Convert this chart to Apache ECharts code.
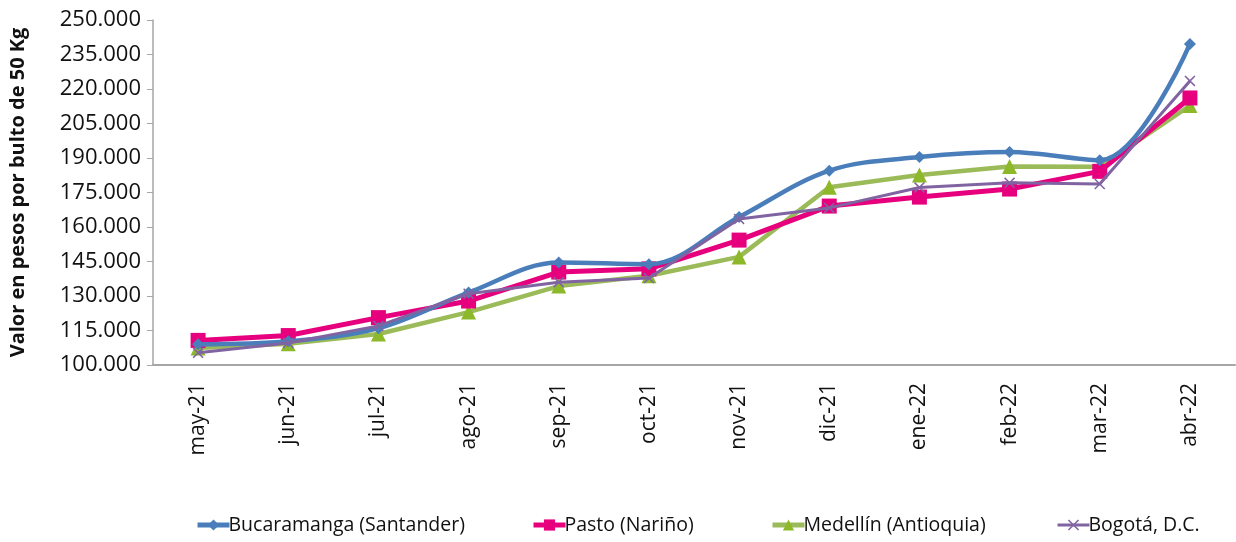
<!DOCTYPE html>
<html>
<head>
<meta charset="utf-8">
<script src="https://cdn.jsdelivr.net/npm/echarts@6/dist/echarts.min.js"></script>
<style>
html,body{margin:0;padding:0;background:#fff;}
#chart{width:1236px;height:542px;}
</style>
</head>
<body>
<div id="chart"></div>
<script>
var categories = ['may-21','jun-21','jul-21','ago-21','sep-21','oct-21','nov-21','dic-21','ene-22','feb-22','mar-22','abr-22'];
var bucaramanga = [109000, 110300, 116000, 131500, 144600, 143800, 164300, 184500, 190400, 192600, 189000, 239600];
var pasto = [110700, 112800, 120600, 127800, 140400, 141800, 154300, 169100, 173000, 176500, 184200, 216100];
var medellin = [107400, 109200, 113500, 123000, 134300, 138800, 147000, 177300, 182600, 186300, 186200, 212800];
var bogota = [105300, 109600, 117000, 131000, 136000, 137800, 163500, 168300, 177200, 179200, 178700, 223500];
var seriesNames = ['Bucaramanga (Santander)', 'Pasto (Nariño)', 'Medellín (Antioquia)', 'Bogotá, D.C.'];

var FONT = '"Open Sans", "Noto Sans", sans-serif';
var xSymbol = 'path://M0,1 L1,0 L5,4 L9,0 L10,1 L6,5 L10,9 L9,10 L5,6 L1,10 L0,9 L4,5Z';

function fmt(v){
  return String(v).replace(/\B(?=(\d{3})+(?!\d))/g, '.');
}

var chart = echarts.init(document.getElementById('chart'), null, {renderer:'canvas'});
var legendBase = {
  bottom: 2,
  itemWidth: 32,
  itemHeight: 14,
  textStyle: {fontFamily: FONT, fontSize: 19.5, color: '#111', padding: [0,0,0,-6]}
};
chart.setOption({
  animation: false,
  backgroundColor: '#fff',
  grid: {left: 152, right: 1, top: 20, bottom: 177, containLabel: false},
  legend: [
    Object.assign({}, legendBase, {left: 190, data: [seriesNames[0]], lineStyle: {width: 5}}),
    Object.assign({}, legendBase, {left: 526, data: [seriesNames[1]], lineStyle: {width: 5}}),
    Object.assign({}, legendBase, {left: 765, data: [seriesNames[2]], lineStyle: {width: 5}}),
    Object.assign({}, legendBase, {left: 1051, data: [seriesNames[3]], lineStyle: {width: 3}})
  ],
  xAxis: {
    type: 'category',
    data: categories,
    boundaryGap: true,
    axisLine: {lineStyle: {color: '#a6a6a6', width: 2}},
    axisTick: {show: false},
    axisLabel: {rotate: 90, margin: 18, fontFamily: FONT, fontSize: 21, color: '#111'},
    splitLine: {show: false}
  },
  yAxis: {
    type: 'value',
    min: 100000,
    max: 250000,
    interval: 15000,
    name: 'Valor en pesos por bulto de 50 Kg',
    nameLocation: 'middle',
    nameGap: 125,
    nameTextStyle: {fontFamily: FONT, fontSize: 20, fontWeight: 'bold', color: '#111'},
    axisLine: {show: true, lineStyle: {color: '#a6a6a6', width: 1.5}},
    axisTick: {show: true, length: 6, lineStyle: {color: '#a6a6a6'}},
    axisLabel: {margin: 12, fontFamily: FONT, fontSize: 22, color: '#111', formatter: fmt},
    splitLine: {show: false}
  },
  series: [
    {
      name: seriesNames[0], type: 'line', data: bucaramanga, smooth: 0.35,
      symbol: 'diamond', symbolSize: 12,
      lineStyle: {color: '#4a7ebb', width: 4.5},
      itemStyle: {color: '#4a7ebb'}, z: 5
    },
    {
      name: seriesNames[1], type: 'line', data: pasto,
      symbol: 'rect', symbolSize: 15,
      lineStyle: {color: '#e6007e', width: 5},
      itemStyle: {color: '#e6007e'}, z: 4
    },
    {
      name: seriesNames[2], type: 'line', data: medellin,
      symbol: 'triangle', symbolSize: 15,
      lineStyle: {color: '#9bbb59', width: 4.5},
      itemStyle: {color: '#8db82a'}, z: 3
    },
    {
      name: seriesNames[3], type: 'line', data: bogota,
      symbol: xSymbol, symbolSize: 11,
      lineStyle: {color: '#8064a2', width: 3},
      itemStyle: {color: '#8064a2'}, z: 6
    }
  ]
});
</script>
</body>
</html>
